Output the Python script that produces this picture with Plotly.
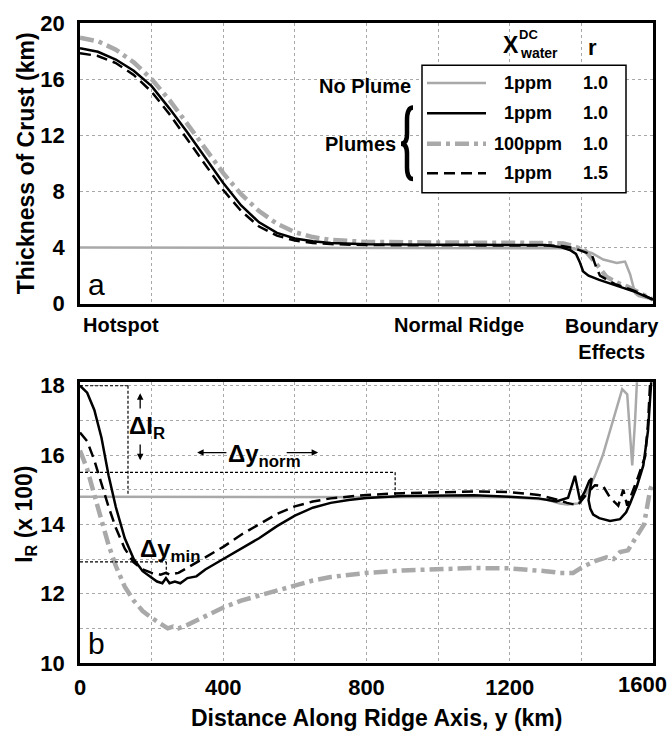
import plotly.graph_objects as go

# ---------------- DATA ----------------
# Panel a: crustal thickness (km) vs distance along ridge (km)
a_x_nop = [0, 200, 400, 600, 800, 1000, 1200, 1300, 1350, 1400, 1430, 1461, 1480, 1499, 1510, 1522, 1536, 1545, 1550, 1560, 1580, 1600]
a_nop   = [4.0, 4.0, 4.0, 4.0, 4.0, 4.0, 4.0, 3.98, 3.95, 3.85, 3.6, 3.15, 3.0, 2.9, 2.95, 3.0, 2.1, 1.2, 0.75, 0.55, 0.42, 0.3]

a_x_p1 = [0, 50, 100, 150, 200, 250, 300, 350, 400, 450, 500, 550, 600, 650, 700, 800, 900, 1000, 1100, 1200, 1300, 1340, 1370, 1385, 1395, 1405, 1420, 1450, 1500, 1550, 1600]
a_p1   = [18.2, 17.95, 17.4, 16.6, 15.5, 13.9, 12.2, 10.4, 8.6, 7.0, 5.8, 5.05, 4.65, 4.45, 4.33, 4.24, 4.2, 4.2, 4.2, 4.2, 4.18, 4.05, 3.8, 3.55, 3.0, 2.3, 2.0, 1.7, 1.3, 0.85, 0.3]

a_x_p100 = [0, 50, 100, 150, 200, 250, 300, 350, 400, 450, 500, 550, 600, 650, 700, 800, 900, 1000, 1100, 1200, 1300, 1350, 1380, 1410, 1443, 1471, 1500, 1530, 1560, 1600]
a_p100   = [18.95, 18.7, 18.1, 17.2, 16.0, 14.5, 12.8, 11.0, 9.3, 7.8, 6.6, 5.7, 5.1, 4.75, 4.55, 4.4, 4.36, 4.35, 4.35, 4.35, 4.35, 4.3, 4.1, 3.8, 2.8, 1.9, 1.5, 1.2, 0.8, 0.3]

a_x_r15 = [0, 50, 100, 150, 200, 250, 300, 350, 400, 450, 500, 550, 600, 650, 700, 800, 900, 1000, 1100, 1200, 1300, 1350, 1380, 1410, 1429, 1440, 1452, 1494, 1550, 1600]
a_r15   = [17.85, 17.65, 17.15, 16.3, 15.1, 13.5, 11.7, 9.9, 8.1, 6.6, 5.5, 4.85, 4.5, 4.33, 4.25, 4.18, 4.16, 4.15, 4.15, 4.15, 4.15, 4.1, 3.95, 3.7, 3.5, 2.7, 2.0, 1.4, 0.9, 0.3]

# Panel b: I_R (x 100) vs distance along ridge (km)
b_x_nop = [0, 200, 400, 600, 800, 1000, 1200, 1300, 1340, 1360, 1390, 1410, 1438, 1460, 1480, 1500, 1514, 1528, 1542, 1550, 1556]
b_nop   = [14.8, 14.8, 14.8, 14.8, 14.8, 14.8, 14.78, 14.72, 14.6, 14.57, 14.6, 14.8, 15.4, 16.0, 16.7, 17.4, 17.9, 17.75, 15.7, 17.0, 18.3]

b_x_p1 = [0, 20, 40, 60, 80, 100, 125, 150, 175, 200, 215, 230, 240, 250, 265, 280, 300, 325, 350, 375, 400, 450, 500, 550, 600, 650, 700, 750, 800, 900, 1000, 1100, 1200, 1280, 1330, 1363, 1382, 1396, 1410, 1422, 1429, 1425, 1420, 1425, 1433, 1450, 1480, 1508, 1525, 1536, 1555, 1573, 1586, 1595, 1600]
b_p1   = [18.0, 17.8, 17.3, 16.5, 15.4, 14.5, 13.6, 13.0, 12.65, 12.45, 12.35, 12.3, 12.45, 12.3, 12.35, 12.3, 12.45, 12.5, 12.7, 12.85, 13.0, 13.3, 13.6, 13.95, 14.25, 14.48, 14.62, 14.7, 14.76, 14.82, 14.84, 14.84, 14.8, 14.75, 14.66, 14.77, 15.4, 14.7, 14.95, 15.25, 15.33, 15.0, 14.7, 14.45, 14.28, 14.18, 14.1, 14.15, 14.35, 14.6, 15.1, 15.7, 16.7, 18.1, 18.4]

b_x_p100 = [0, 20, 40, 60, 80, 100, 125, 150, 175, 200, 225, 245, 260, 275, 300, 350, 400, 450, 500, 550, 600, 650, 700, 800, 900, 1000, 1100, 1200, 1260, 1300, 1340, 1377, 1400, 1440, 1470, 1490, 1508, 1530, 1545, 1556, 1575, 1592, 1600]
b_p100   = [16.13, 15.6, 14.85, 14.1, 13.4, 12.8, 12.2, 11.8, 11.5, 11.3, 11.12, 11.0, 11.05, 11.0, 11.1, 11.35, 11.6, 11.8, 11.95, 12.1, 12.25, 12.38, 12.48, 12.6, 12.67, 12.72, 12.74, 12.73, 12.7, 12.65, 12.6, 12.6, 12.75, 12.95, 13.05, 13.0, 13.2, 13.25, 13.5, 13.7, 14.0, 15.0, 15.2]

b_x_r15 = [0, 20, 40, 60, 80, 100, 125, 150, 175, 200, 225, 240, 250, 275, 300, 350, 400, 450, 500, 550, 600, 650, 700, 800, 900, 1000, 1100, 1200, 1280, 1330, 1360, 1390, 1420, 1438, 1461, 1480, 1503, 1517, 1528, 1556, 1578, 1586, 1592, 1598]
b_r15   = [16.65, 16.4, 15.85, 15.15, 14.5, 13.9, 13.3, 12.9, 12.7, 12.6, 12.55, 12.6, 12.55, 12.6, 12.75, 13.05, 13.35, 13.7, 14.0, 14.3, 14.52, 14.66, 14.75, 14.85, 14.9, 14.93, 14.95, 14.93, 14.85, 14.72, 14.62, 14.55, 14.95, 15.13, 15.1, 14.77, 14.54, 15.0, 14.54, 15.3, 15.96, 16.9, 18.1, 18.4]

x_ticks = [0, 400, 800, 1200]
x_last_tick = "1600"
ya_ticks = [0, 4, 8, 12, 16, 20]
yb_ticks = [10, 12, 14, 16, 18]

legend_rows = [("1ppm", "1.0"), ("1ppm", "1.0"), ("100ppm", "1.0"), ("1ppm", "1.5")]

# ---------------- STYLE ----------------
FONT = "Liberation Sans, Arial, Helvetica, sans-serif"
GRAY = "#a9a9a9"
BLACK = "#000000"
GRID = "#a8a8a8"

styles = {
    "nop": dict(color=GRAY, width=2.5, dash="solid"),
    "p1": dict(color=BLACK, width=2.5, dash="solid"),
    "p100": dict(color=GRAY, width=4.5, dash="14px,5px,4px,5px"),
    "r15": dict(color=BLACK, width=2.5, dash="11px,6px"),
}

fig = go.Figure()

def add(x, y, key, xa, ya):
    fig.add_trace(go.Scatter(x=x, y=y, mode="lines", line=styles[key],
                             xaxis=xa, yaxis=ya, showlegend=False, hoverinfo="skip"))

add(a_x_nop, a_nop, "nop", "x", "y")
add(a_x_p100, a_p100, "p100", "x", "y")
add(a_x_r15, a_r15, "r15", "x", "y")
add(a_x_p1, a_p1, "p1", "x", "y")

add(b_x_nop, b_nop, "nop", "x2", "y2")
add(b_x_p100, b_p100, "p100", "x2", "y2")
add(b_x_r15, b_r15, "r15", "x2", "y2")
add(b_x_p1, b_p1, "p1", "x2", "y2")

# geometry (pixels) for layout
W, H = 670, 733
ML, MR, MT, MB = 80, 17, 11, 70
PW = W - ML - MR
PH = H - MT - MB
TOP_BOTTOM_PX = 297
BOT_TOP_PX = 377
dom_a = [(H - MB - TOP_BOTTOM_PX) / PH, 1.0]
dom_b = [0.0, (H - MB - BOT_TOP_PX) / PH]

axis_common = dict(showline=True, mirror=True, linecolor="black", linewidth=2.5,
                   zeroline=False, showgrid=True, gridcolor=GRID, griddash="dot",
                   gridwidth=1, ticks="", tickfont=dict(family=FONT, size=22, weight="bold", color="black"))

fig.update_layout(
    width=W, height=H, autosize=False,
    margin=dict(l=ML, r=MR, t=MT, b=MB),
    plot_bgcolor="white", paper_bgcolor="white",
    xaxis=dict(domain=[0, 1], range=[0, 1600], anchor="y", dtick=200, showticklabels=False, **axis_common),
    yaxis=dict(domain=dom_a, range=[0, 20], anchor="x", tickvals=ya_ticks, ticklabelstandoff=8, **axis_common),
    xaxis2=dict(domain=[0, 1], range=[0, 1600], anchor="y2", tickvals=x_ticks, ticklabelstandoff=3,
                minor=dict(dtick=200, showgrid=True, gridcolor=GRID, griddash="dot", gridwidth=1),
                **axis_common),
    yaxis2=dict(domain=dom_b, range=[10, 18.1], anchor="x2", tickvals=yb_ticks, ticklabelstandoff=8,
                minor=dict(dtick=1, tick0=10, showgrid=True, gridcolor=GRID, griddash="dot", gridwidth=1),
                **axis_common),
)

def px_x(px):
    return (px - ML) / PW

def py_top(py):
    return (H - MB - py) / PH

def bold(size):
    return dict(family=FONT, size=size, weight="bold", color="black")

ann = []
# last x tick label (kept inside the picture as in the reference)
ann.append(dict(text=x_last_tick, x=px_x(642), y=py_top(685), xref="paper", yref="paper",
                showarrow=False, font=bold(22), xanchor="center", yanchor="middle"))
# axis titles
ann.append(dict(text="Distance Along Ridge Axis, y (km)", x=px_x(376), y=py_top(719), xref="paper", yref="paper",
                showarrow=False, font=bold(23), xanchor="center", yanchor="middle"))
ann.append(dict(text="Thickness of Crust (km)", x=px_x(26), y=py_top(154), xref="paper", yref="paper",
                showarrow=False, font=bold(23), textangle=-90, xanchor="center", yanchor="middle"))
ann.append(dict(text="I<sub>R</sub> (x 100)", x=px_x(26), y=py_top(512), xref="paper", yref="paper",
                showarrow=False, font=bold(23), textangle=-90, xanchor="center", yanchor="middle"))
# category labels under panel a
ann.append(dict(text="Hotspot", x=px_x(121), y=py_top(319), xref="paper", yref="paper",
                showarrow=False, font=bold(20), xanchor="center", yanchor="middle"))
ann.append(dict(text="Normal Ridge", x=px_x(459), y=py_top(319), xref="paper", yref="paper",
                showarrow=False, font=bold(20), xanchor="center", yanchor="middle"))
ann.append(dict(text="Boundary<br>Effects", x=px_x(611.5), y=py_top(332.5), xref="paper", yref="paper",
                showarrow=False, font=bold(20), xanchor="center", yanchor="middle"))
# panel letters
ann.append(dict(text="a", x=47, y=1.4, xref="x", yref="y", showarrow=False,
                font=dict(family=FONT, size=30, color="black"), xanchor="center", yanchor="middle"))
ann.append(dict(text="b", x=47, y=10.55, xref="x2", yref="y2", showarrow=False,
                font=dict(family=FONT, size=30, color="black"), xanchor="center", yanchor="middle"))

# legend (manual) in panel a, positions in axis-domain fractions
def dx(px):
    return (px - ML) / PW

def dy_a(py):
    return (TOP_BOTTOM_PX - py) / (TOP_BOTTOM_PX - MT)

shapes = []
shapes.append(dict(type="rect", xref="x domain", yref="y domain", x0=dx(422), x1=dx(626), y0=dy_a(184), y1=dy_a(54),
                   line=dict(color="black", width=1.5), fillcolor="white", layer="above"))
row_py = [72, 103, 134, 164]
for key, py, (c1, c2) in zip(["nop", "p1", "p100", "r15"], row_py, legend_rows):
    st = styles[key]
    shapes.append(dict(type="line", xref="x domain", yref="y domain", x0=dx(427), x1=dx(486), y0=dy_a(py), y1=dy_a(py),
                       line=dict(color=st["color"], width=st["width"], dash=st["dash"]), layer="above"))
    ann.append(dict(text=c1, x=dx(528), y=dy_a(py), xref="x domain", yref="y domain", showarrow=False,
                    font=bold(18), xanchor="center", yanchor="middle"))
    ann.append(dict(text=c2, x=dx(595), y=dy_a(py), xref="x domain", yref="y domain", showarrow=False,
                    font=bold(18), xanchor="center", yanchor="middle"))
# header
ann.append(dict(text="X", x=dx(511), y=dy_a(33.5), xref="x domain", yref="y domain", showarrow=False,
                font=bold(23), xanchor="center", yanchor="middle"))
ann.append(dict(text="DC", x=dx(528), y=dy_a(23), xref="x domain", yref="y domain", showarrow=False,
                font=bold(13), xanchor="center", yanchor="middle"))
ann.append(dict(text="water", x=dx(539), y=dy_a(42), xref="x domain", yref="y domain", showarrow=False,
                font=bold(14), xanchor="center", yanchor="middle"))
ann.append(dict(text="r", x=dx(592), y=dy_a(36), xref="x domain", yref="y domain", showarrow=False,
                font=bold(22), xanchor="center", yanchor="middle"))
ann.append(dict(text="No Plume", x=dx(413), y=dy_a(75), xref="x domain", yref="y domain", showarrow=False,
                font=bold(20), xanchor="right", yanchor="middle"))
ann.append(dict(text="Plumes", x=dx(398), y=dy_a(134), xref="x domain", yref="y domain", showarrow=False,
                font=bold(20), xanchor="right", yanchor="middle"))

# curly brace as a path (data coords of panel a)
def kx(px):
    return (px - ML) / PW * 1600

def vy(py):
    return (TOP_BOTTOM_PX - py) / (TOP_BOTTOM_PX - MT) * 20

bx_tip, bx_mid, bx_end = kx(401), kx(407), kx(413)
y_t, y_c, y_b = vy(97), vy(134), vy(170)
path = (f"M {bx_end},{y_t} Q {bx_mid},{y_t} {bx_mid},{vy(110)} L {bx_mid},{vy(124)} "
        f"Q {bx_mid},{y_c} {bx_tip},{y_c} Q {bx_mid},{y_c} {bx_mid},{vy(144)} "
        f"L {bx_mid},{vy(158)} Q {bx_mid},{y_b} {bx_end},{y_b}")
shapes.append(dict(type="path", xref="x", yref="y", path=path, line=dict(color="black", width=4.5)))

# panel b guide lines (thin dotted)
guide = dict(color="black", width=1.2, dash="3px,2px")
for x0, y0, x1, y1 in [(0, 18.0, 134, 18.0), (134, 18.0, 134, 14.85),
                       (0, 15.5, 880, 15.5), (880, 15.5, 880, 14.85),
                       (0, 12.92, 241, 12.92), (241, 12.92, 241, 12.55)]:
    shapes.append(dict(type="line", xref="x2", yref="y2", x0=x0, y0=y0, x1=x1, y1=y1, line=guide))

# arrows
for (tx, ty, fx, fy) in [(168, 17.78, 168, 17.3), (168, 15.85, 168, 16.35),
                         (327, 16.07, 413, 16.07), (665, 16.07, 573, 16.07)]:
    ann.append(dict(x=tx, y=ty, ax=fx, ay=fy, xref="x2", yref="y2", axref="x2", ayref="y2",
                    showarrow=True, arrowhead=2, arrowsize=1, arrowwidth=1.3, arrowcolor="black", text=""))

ann.append(dict(text="ΔI<sub>R</sub>", x=188, y=16.8, xref="x2", yref="y2", showarrow=False,
                font=bold(24), xanchor="center", yanchor="middle"))
ann.append(dict(text="Δy<sub>norm</sub>", x=515, y=15.98, xref="x2", yref="y2", showarrow=False,
                font=bold(24), xanchor="center", yanchor="middle"))
ann.append(dict(text="Δy<sub>min</sub>", x=250, y=13.25, xref="x2", yref="y2", showarrow=False,
                font=bold(24), xanchor="center", yanchor="middle"))

fig.update_layout(annotations=ann, shapes=shapes)
fig.write_html("out.html")
